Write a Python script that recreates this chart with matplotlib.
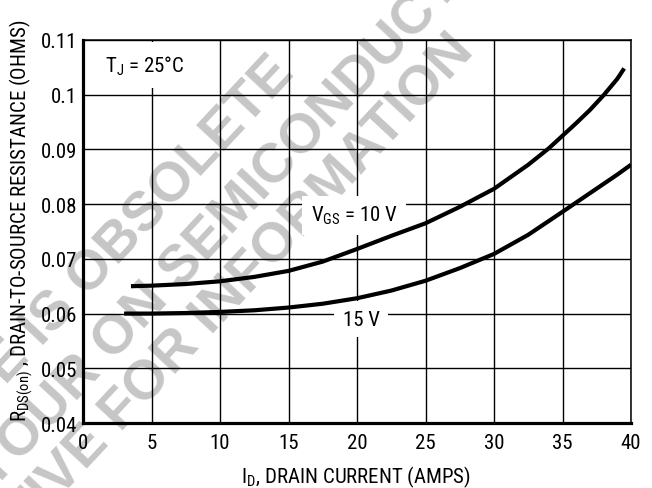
import matplotlib
matplotlib.use('Agg')
import matplotlib.pyplot as plt

plt.rcParams['font.family'] = ['Roboto Condensed', 'DejaVu Sans']
plt.rcParams['mathtext.fontset'] = 'custom'
plt.rcParams['mathtext.rm'] = 'Roboto Condensed'
plt.rcParams['mathtext.it'] = 'Roboto Condensed'

# drain current (A) and on-resistance (ohms)
id_10v = [3.5, 5, 7.5, 10, 12.5, 15, 17.5, 20, 22.5, 25, 27.5, 30, 32.5,
          34, 35, 36, 37, 38, 39, 39.5]
rds_10v = [0.0650, 0.0651, 0.0654, 0.0659, 0.0667, 0.0678, 0.0695, 0.0718,
           0.0742, 0.0765, 0.0795, 0.0828, 0.0872, 0.0902, 0.0925, 0.0948,
           0.0972, 0.0999, 0.1029, 0.1048]
id_15v = [3.0, 5, 7.5, 10, 12.5, 15, 17.5, 20, 22.5, 25, 27.5, 30, 32.5,
          35, 36, 37, 38, 39, 40]
rds_15v = [0.0600, 0.0600, 0.0601, 0.0603, 0.0606, 0.0611, 0.0618, 0.0628,
           0.0642, 0.0660, 0.0683, 0.0709, 0.0744, 0.0786, 0.0803, 0.0820,
           0.0837, 0.0854, 0.0872]

xticks = [0, 5, 10, 15, 20, 25, 30, 35, 40]
yticks = [0.04, 0.05, 0.06, 0.07, 0.08, 0.09, 0.1, 0.11]
ytick_labels = ['0.04', '0.05', '0.06', '0.07', '0.08', '0.09', '0.1', '0.11']

fig = plt.figure(figsize=(6.52, 4.89), dpi=100)
ax = fig.add_axes([0.1273, 0.1329, 0.8405, 0.7833])
ax.patch.set_visible(False)

# watermark behind the chart
wm = '#c6c6c6'
wm_lines = [('THIS DEVICE IS OBSOLETE', 35, 335),
            ('CONTACT YOUR ON SEMICONDUCTOR', 150, 303),
            ('REPRESENTATIVE FOR INFORMATION', 114, 420)]
for txt, px, py in wm_lines:
    fig.text(px / 652, 1 - py / 489, txt, rotation=47, rotation_mode='anchor',
             ha='center', va='center', fontsize=40, fontweight='bold',
             family=['Liberation Sans', 'DejaVu Sans'], color=wm, zorder=-5)

ax.plot(id_10v, rds_10v, color='black', lw=3, solid_capstyle='butt', zorder=3)
ax.plot(id_15v, rds_15v, color='black', lw=3, solid_capstyle='butt', zorder=3)

ax.set_xlim(0, 40)
ax.set_ylim(0.04, 0.11)
ax.set_xticks(xticks)
ax.set_yticks(yticks)
ax.set_yticklabels(ytick_labels)
ax.tick_params(length=0, labelsize=15)
ax.tick_params(axis='x', pad=7)
ax.tick_params(axis='y', pad=4)
ax.grid(True, color='black', lw=1.0)
ax.set_axisbelow(True)
for s in ['left', 'bottom']:
    ax.spines[s].set_linewidth(2.3)
for s in ['top', 'right']:
    ax.spines[s].set_linewidth(1.1)

ax.text(4.5, 0.1054, r'T$_\mathrm{J}$ = 25°C', fontsize=15, ha='center', va='center',
        bbox=dict(facecolor='white', edgecolor='none', pad=8), zorder=2.5)
ax.text(19.8, 0.0780, r'V$_\mathrm{GS}$ = 10 V', fontsize=15, ha='center', va='center',
        bbox=dict(facecolor='white', edgecolor='none', pad=6), zorder=2.5)
ax.text(20.3, 0.0590, '15 V', fontsize=15, ha='center', va='center',
        bbox=dict(facecolor='white', edgecolor='none', pad=6), zorder=2.5)

ax.set_xlabel(r'I$_\mathrm{D}$, DRAIN CURRENT (AMPS)', fontsize=15)
ax.xaxis.set_label_coords(0.498, -0.107)
ax.set_ylabel(r'R$_\mathrm{DS(on)}$ , DRAIN-TO-SOURCE RESISTANCE (OHMS)', fontsize=15)
ax.yaxis.set_label_coords(-0.088, 0.53)

fig.savefig('out.png', dpi=100)
